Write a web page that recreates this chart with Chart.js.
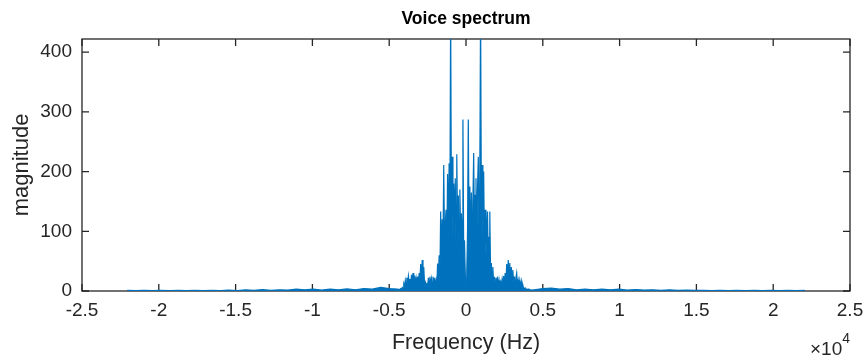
<!DOCTYPE html>
<html>
<head>
<meta charset="utf-8">
<script src="https://cdn.jsdelivr.net/npm/chart.js@4.4.1/dist/chart.umd.min.js"></script>
<style>
  html, body { margin: 0; padding: 0; background: #fff; }
  #wrap { width: 866px; height: 356px; position: relative; }
</style>
</head>
<body>
<div id="wrap"><canvas id="c"></canvas></div>
<script>
// x axis ticks, shown in units of 1e4 Hz
const xTicksHz = [-25000, -20000, -15000, -10000, -5000, 0, 5000, 10000, 15000, 20000, 25000];
const yTicks = [0, 100, 200, 300, 400];

// low-level noise floor, -22050 .. -4450 Hz every 550 Hz
const leftTailStartHz = -22050;
const leftTailStepHz = 550;
const leftTailMag = [1, 0.5, 1, 0.5, 1, 0.5, 1, 0.8, 1, 0.5, 1, 0.8, 1.5, 0.8, 2, 1, 2.5,
  1, 2, 1.5, 3, 2, 3, 1.5, 3, 2, 3.5, 2, 4, 3, 6, 4, 3];

// voiced band, -4400 .. 4400 Hz every 50 Hz
const coreStartHz = -4400;
const coreStepHz = 50;
const coreMag = [
  2, 3, 2, 4, 3, 6, 4, 12, 8, 18,
  10, 22, 12, 25, 14, 20, 10, 27, 15, 30,
  12, 26, 14, 22, 10, 24, 12, 30, 18, 45,
  20, 52, 25, 40, 12, 15, 6, 14, 5, 22,
  8, 24, 10, 20, 6, 24, 10, 22, 8, 18,
  6, 46, 12, 60, 20, 133, 50, 120, 70, 211,
  80, 110, 136, 70, 196, 90, 214, 110, 480, 120,
  225, 90, 180, 110, 189, 80, 229, 100, 160, 70,
  170, 90, 130, 100, 287, 60, 85, 30, 5,
  30, 100, 287, 80, 175, 70, 165, 90, 150, 231,
  90, 160, 189, 80, 170, 225, 100, 200, 480, 130,
  211, 90, 200, 80, 136, 60, 100, 133, 50, 90,
  133, 25, 47, 10, 40, 8, 24, 6, 22, 8,
  24, 6, 18, 5, 15, 10, 20, 8, 25, 10,
  30, 12, 45, 20, 52, 25, 47, 15, 40, 18,
  35, 10, 24, 8, 22, 30, 10, 18, 8, 18,
  6, 16, 5, 10, 4, 5, 3, 4, 2, 3,
  2, 3, 2, 2, 1, 2, 1, 2
];

// noise floor, 4450 .. 22050 Hz every 550 Hz
const rightTailStartHz = 4450;
const rightTailStepHz = 550;
const rightTailMag = [2, 4, 5, 3, 4, 2, 3, 2, 3, 2, 3, 1.5, 2.5, 1.5, 2, 1, 2, 1, 1.5,
  1, 1, 0.5, 1, 0.5, 1, 0.5, 1, 0.5, 1, 0.5, 1, 0.5, 1];

const points = [];
leftTailMag.forEach((v, i) => points.push({ x: leftTailStartHz + i * leftTailStepHz, y: v }));
coreMag.forEach((v, i) => points.push({ x: coreStartHz + i * coreStepHz, y: v }));
rightTailMag.forEach((v, i) => points.push({ x: rightTailStartHz + i * rightTailStepHz, y: v }));

const axisColor = '#262626';
const lineColor = '#0072BD';
const fontFamily = '"Liberation Sans", Arial, Helvetica, sans-serif';

// MATLAB-style box with inward ticks, title over the axes, and the x10^4 exponent
const boxPlugin = {
  id: 'box',
  beforeDatasetsDraw(chart) {
    const { ctx, chartArea: a, scales } = chart;
    ctx.save();
    ctx.strokeStyle = axisColor;
    ctx.lineWidth = 1.3;
    ctx.strokeRect(a.left, a.top, a.right - a.left, a.bottom - a.top);
    ctx.beginPath();
    const len = 7;
    xTicksHz.forEach(v => {
      const px = scales.x.getPixelForValue(v);
      ctx.moveTo(px, a.bottom); ctx.lineTo(px, a.bottom - len);
      ctx.moveTo(px, a.top); ctx.lineTo(px, a.top + len);
    });
    yTicks.forEach(v => {
      const py = scales.y.getPixelForValue(v);
      ctx.moveTo(a.left, py); ctx.lineTo(a.left + len, py);
      ctx.moveTo(a.right, py); ctx.lineTo(a.right - len, py);
    });
    ctx.stroke();
    ctx.restore();
  },
  afterDraw(chart) {
    const { ctx, chartArea: a } = chart;
    ctx.save();
    ctx.fillStyle = '#000';
    ctx.textAlign = 'center';
    ctx.textBaseline = 'middle';
    ctx.font = 'bold 17.5px ' + fontFamily;
    ctx.fillText('Voice spectrum', (a.left + a.right) / 2, 19);

    ctx.fillStyle = axisColor;
    ctx.textBaseline = 'alphabetic';
    ctx.textAlign = 'right';
    ctx.font = '14px ' + fontFamily;
    ctx.fillText('4', a.right, 343);
    const w4 = ctx.measureText('4').width;
    ctx.font = '19px ' + fontFamily;
    ctx.fillText('\u00d710', a.right - w4, 355);
    ctx.restore();
  }
};

new Chart(document.getElementById('c'), {
  type: 'line',
  data: {
    datasets: [{
      data: points,
      borderColor: lineColor,
      backgroundColor: lineColor,
      borderWidth: 1.2,
      pointRadius: 0,
      fill: 'origin',
      tension: 0
    }]
  },
  options: {
    responsive: true,
    maintainAspectRatio: false,
    animation: false,
    layout: { padding: { left: 0, right: 16, top: 39, bottom: 0 } },
    plugins: {
      legend: { display: false },
      tooltip: { enabled: false },
      title: { display: false }
    },
    scales: {
      x: {
        type: 'linear',
        min: -25000,
        max: 25000,
        afterFit: s => { s.height = 65; s.paddingLeft = 0; s.paddingRight = 0; },
        afterBuildTicks: s => { s.ticks = xTicksHz.map(v => ({ value: v })); },
        ticks: {
          color: axisColor,
          padding: 8,
          maxRotation: 0,
          font: { family: fontFamily, size: 19 },
          callback: v => String(v / 10000)
        },
        grid: { display: false, drawTicks: false },
        border: { display: false },
        title: {
          display: true,
          text: 'Frequency (Hz)',
          color: axisColor,
          font: { family: fontFamily, size: 21.5 },
          padding: { top: 0, bottom: 0 }
        }
      },
      y: {
        type: 'linear',
        min: 0,
        max: 422,
        afterFit: s => { s.width = 82; },
        afterBuildTicks: s => { s.ticks = yTicks.map(v => ({ value: v })); },
        ticks: {
          color: axisColor,
          padding: 10,
          font: { family: fontFamily, size: 19 }
        },
        grid: { display: false, drawTicks: false },
        border: { display: false },
        title: {
          display: true,
          text: 'magnitude',
          color: axisColor,
          font: { family: fontFamily, size: 22 },
          padding: { top: 9, bottom: 0 }
        }
      }
    }
  },
  plugins: [boxPlugin]
});
</script>
</body>
</html>
